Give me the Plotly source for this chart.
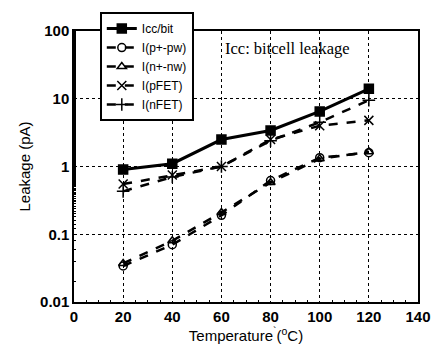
import plotly.graph_objects as go

temps = [20, 40, 60, 80, 100, 120]
icc_bit = [0.9, 1.1, 2.5, 3.4, 6.5, 14]
i_p_pw = [0.034, 0.07, 0.19, 0.62, 1.35, 1.6]
i_n_nw = [0.037, 0.08, 0.21, 0.58, 1.3, 1.65]
i_pfet = [0.55, 0.75, 1.0, 2.5, 4.0, 4.8]
i_nfet = [0.43, 0.7, 1.0, 2.4, 4.5, 9.5]

series = [
    ("Icc/bit", icc_bit, "solid", "square", 3, 9),
    ("I(p+-pw)", i_p_pw, "dash", "circle-open", 2.5, 8),
    ("I(n+-nw)", i_n_nw, "dash", "triangle-up-open", 2.5, 8),
    ("I(pFET)", i_pfet, "dash", "x-thin-open", 2.5, 9),
    ("I(nFET)", i_nfet, "dash", "cross-thin-open", 2.5, 9),
]

fig = go.Figure()
for name, vals, dash, sym, w, ms in series:
    fig.add_trace(go.Scatter(
        x=temps, y=vals, name=name, mode="lines+markers",
        line=dict(color="black", width=w, dash=dash),
        marker=dict(symbol=sym, size=ms, color="black",
                    line=dict(color="black", width=1.5)),
    ))

font_b = dict(family="Liberation Sans, Arial", size=15, color="black", weight="bold")
fig.update_layout(
    width=443, height=351,
    margin=dict(l=74, r=19, t=27, b=48),
    paper_bgcolor="white", plot_bgcolor="white",
    showlegend=True,
    legend=dict(x=0.075, y=1.07, xanchor="left", yanchor="top",
                bgcolor="white", bordercolor="black", borderwidth=2,
                font=dict(family="Liberation Sans, Arial", size=12, color="black"),
                itemwidth=30, tracegroupgap=0),
    xaxis=dict(range=[0, 140], dtick=20, showline=True, linecolor="black",
               linewidth=1.5, mirror=True, ticks="", showgrid=True,
               gridcolor="black", griddash="dot", gridwidth=1,
               tickfont=font_b, zeroline=False,
               minor=dict(dtick=5, ticks="inside", ticklen=2, tickcolor="black",
                          showgrid=False),
               title=dict(text="Temperature<sup>`</sup>(<sup>o</sup>C)",
                          font=dict(family="Liberation Sans, Arial", size=15, color="black"),
                          standoff=4)),
    yaxis=dict(type="log", range=[-2, 2], dtick=1, showline=True, linecolor="black",
               linewidth=1.5, mirror=True, ticks="", showgrid=True,
               gridcolor="black", griddash="dot", gridwidth=1,
               tickfont=font_b, tickvals=[0.01, 0.1, 1, 10, 100],
               ticktext=["0.01", "0.1", "1", "10", "100"],
               minor=dict(ticks="inside", ticklen=2, tickcolor="black", showgrid=False),
               title=dict(text="Leakage (pA)",
                          font=dict(family="Liberation Sans, Arial", size=15, color="black"),
                          standoff=6)),
    annotations=[dict(text="Icc: bitcell leakage", x=0.62, y=0.935, xref="paper",
                      yref="paper", showarrow=False, xanchor="center", yanchor="middle",
                      font=dict(family="Liberation Serif, Times New Roman", size=16.5,
                                color="black"))],
)

fig.write_html("out.html")
